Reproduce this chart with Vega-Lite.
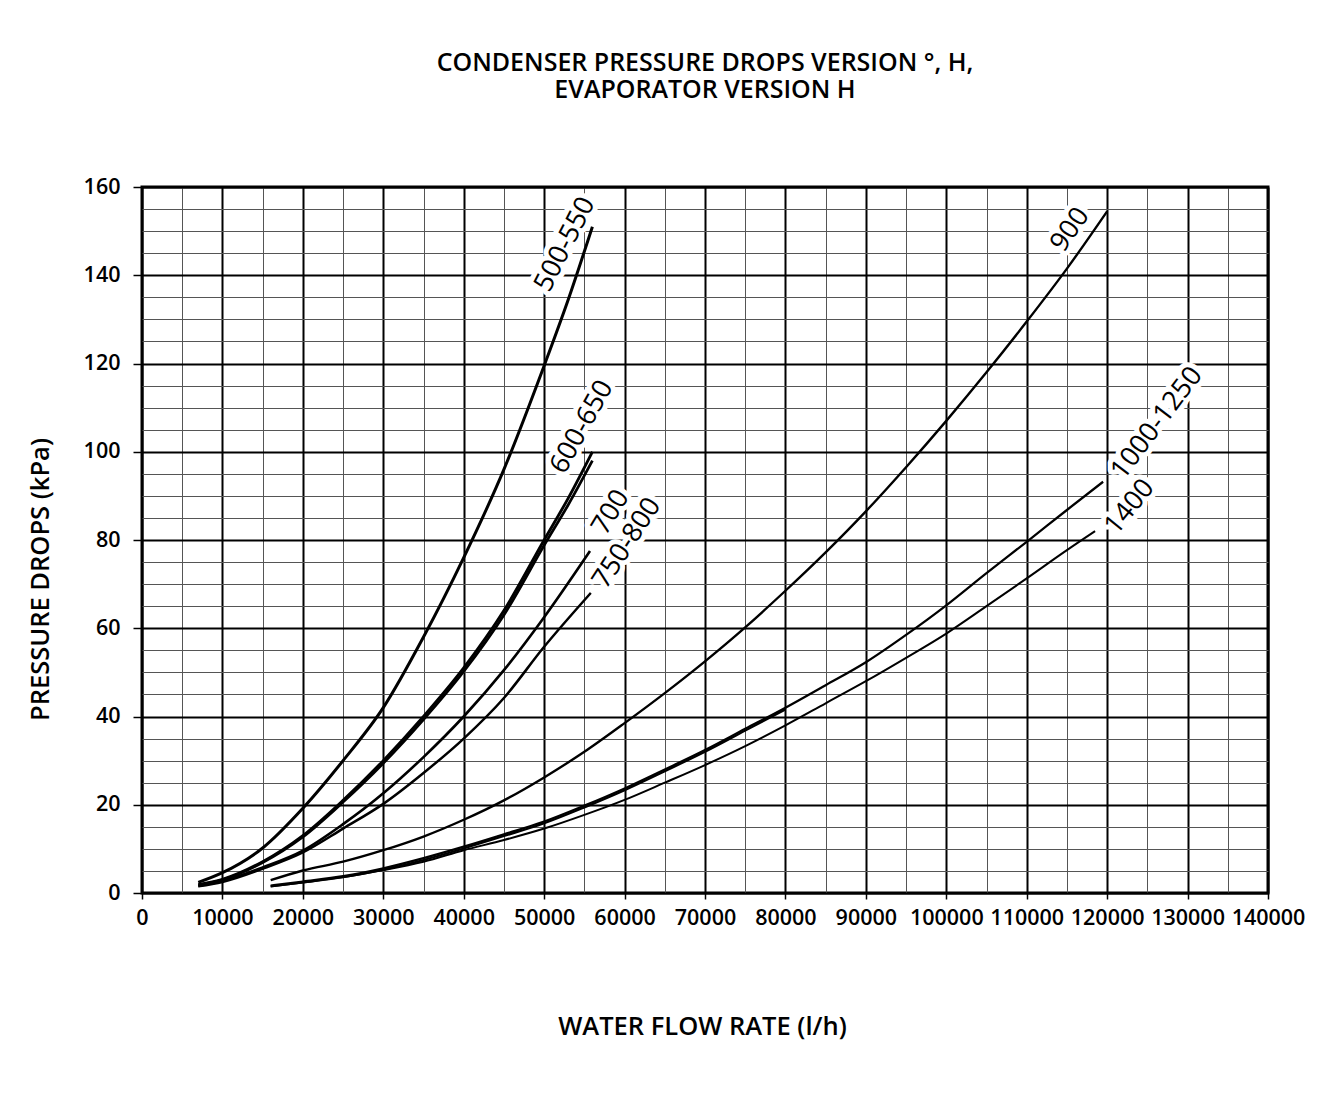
{
  "$schema": "https://vega.github.io/schema/vega-lite/v6.json",
  "width": 1126,
  "height": 706,
  "autosize": "none",
  "padding": {"left": 142, "top": 187, "right": 76, "bottom": 204},
  "background": "white",
  "config": {
    "view": {"stroke": "black", "strokeWidth": 3},
    "font": "Open Sans"
  },
  "title": {
    "text": ["CONDENSER PRESSURE DROPS VERSION °, H,", "EVAPORATOR VERSION H"],
    "font": "Open Sans",
    "fontSize": 25,
    "fontWeight": 600,
    "color": "black",
    "anchor": "middle",
    "lineHeight": 27,
    "offset": 73
  },
  "datasets": {
    "curves": [
      {"s": "500-550", "x": 7000, "y": 2.4},
      {"s": "500-550", "x": 10000, "y": 4.6},
      {"s": "500-550", "x": 15000, "y": 10.2},
      {"s": "500-550", "x": 20000, "y": 19.2},
      {"s": "500-550", "x": 25000, "y": 30},
      {"s": "500-550", "x": 30000, "y": 42},
      {"s": "500-550", "x": 35000, "y": 58},
      {"s": "500-550", "x": 40000, "y": 76},
      {"s": "500-550", "x": 45000, "y": 96},
      {"s": "500-550", "x": 50000, "y": 119.5},
      {"s": "500-550", "x": 53000, "y": 134.5},
      {"s": "500-550", "x": 56000, "y": 151},
      {"s": "650", "x": 7000, "y": 1.9},
      {"s": "650", "x": 10000, "y": 3.1},
      {"s": "650", "x": 15000, "y": 7.1},
      {"s": "650", "x": 20000, "y": 13},
      {"s": "650", "x": 25000, "y": 21},
      {"s": "650", "x": 30000, "y": 30},
      {"s": "650", "x": 35000, "y": 40},
      {"s": "650", "x": 40000, "y": 51},
      {"s": "650", "x": 45000, "y": 64},
      {"s": "650", "x": 50000, "y": 80},
      {"s": "650", "x": 53000, "y": 89.5},
      {"s": "650", "x": 56000, "y": 100},
      {"s": "600", "x": 7000, "y": 1.8},
      {"s": "600", "x": 10000, "y": 3},
      {"s": "600", "x": 15000, "y": 6.9},
      {"s": "600", "x": 20000, "y": 12.7},
      {"s": "600", "x": 25000, "y": 20.6},
      {"s": "600", "x": 30000, "y": 29.4},
      {"s": "600", "x": 35000, "y": 39.3},
      {"s": "600", "x": 40000, "y": 50.2},
      {"s": "600", "x": 45000, "y": 63},
      {"s": "600", "x": 50000, "y": 78.8},
      {"s": "600", "x": 53000, "y": 88},
      {"s": "600", "x": 56000, "y": 98},
      {"s": "700", "x": 7000, "y": 1.6},
      {"s": "700", "x": 10000, "y": 2.7},
      {"s": "700", "x": 15000, "y": 5.8},
      {"s": "700", "x": 20000, "y": 9.6},
      {"s": "700", "x": 25000, "y": 15.6},
      {"s": "700", "x": 30000, "y": 22.6},
      {"s": "700", "x": 35000, "y": 30.8},
      {"s": "700", "x": 40000, "y": 40},
      {"s": "700", "x": 45000, "y": 50.5},
      {"s": "700", "x": 50000, "y": 62.5},
      {"s": "700", "x": 55700, "y": 77.5},
      {"s": "750-800", "x": 7000, "y": 1.5},
      {"s": "750-800", "x": 10000, "y": 2.5},
      {"s": "750-800", "x": 15000, "y": 5.5},
      {"s": "750-800", "x": 20000, "y": 9.2},
      {"s": "750-800", "x": 25000, "y": 14.6},
      {"s": "750-800", "x": 30000, "y": 20.2},
      {"s": "750-800", "x": 35000, "y": 27.2},
      {"s": "750-800", "x": 40000, "y": 35},
      {"s": "750-800", "x": 45000, "y": 44.2},
      {"s": "750-800", "x": 50000, "y": 55.8},
      {"s": "750-800", "x": 55800, "y": 68},
      {"s": "900", "x": 16000, "y": 2.9},
      {"s": "900", "x": 20000, "y": 5.1},
      {"s": "900", "x": 25000, "y": 7.1},
      {"s": "900", "x": 30000, "y": 9.7},
      {"s": "900", "x": 35000, "y": 12.8},
      {"s": "900", "x": 40000, "y": 16.6},
      {"s": "900", "x": 45000, "y": 21},
      {"s": "900", "x": 50000, "y": 26.2},
      {"s": "900", "x": 55000, "y": 32},
      {"s": "900", "x": 60000, "y": 38.5},
      {"s": "900", "x": 65000, "y": 45.3},
      {"s": "900", "x": 70000, "y": 52.5},
      {"s": "900", "x": 75000, "y": 60.2},
      {"s": "900", "x": 80000, "y": 68.5},
      {"s": "900", "x": 85000, "y": 77.2},
      {"s": "900", "x": 90000, "y": 86.5},
      {"s": "900", "x": 95000, "y": 96.5},
      {"s": "900", "x": 100000, "y": 107},
      {"s": "900", "x": 105000, "y": 118},
      {"s": "900", "x": 110000, "y": 129.5},
      {"s": "900", "x": 115000, "y": 141.5},
      {"s": "900", "x": 120000, "y": 154.5},
      {"s": "1000-1250", "x": 16000, "y": 1.7},
      {"s": "1000-1250", "x": 20000, "y": 2.6},
      {"s": "1000-1250", "x": 25000, "y": 3.8},
      {"s": "1000-1250", "x": 30000, "y": 5.6},
      {"s": "1000-1250", "x": 35000, "y": 7.9},
      {"s": "1000-1250", "x": 40000, "y": 10.5},
      {"s": "1000-1250", "x": 45000, "y": 13.3},
      {"s": "1000-1250", "x": 50000, "y": 16.2},
      {"s": "1000-1250", "x": 55000, "y": 19.8},
      {"s": "1000-1250", "x": 60000, "y": 23.7},
      {"s": "1000-1250", "x": 65000, "y": 28},
      {"s": "1000-1250", "x": 70000, "y": 32.4},
      {"s": "1000-1250", "x": 75000, "y": 37.2},
      {"s": "1000-1250", "x": 80000, "y": 42},
      {"s": "1000-1250", "x": 85000, "y": 47.1},
      {"s": "1000-1250", "x": 90000, "y": 52.3},
      {"s": "1000-1250", "x": 95000, "y": 58.5},
      {"s": "1000-1250", "x": 100000, "y": 65.2},
      {"s": "1000-1250", "x": 105000, "y": 72.5},
      {"s": "1000-1250", "x": 110000, "y": 79.6},
      {"s": "1000-1250", "x": 115000, "y": 86.8},
      {"s": "1000-1250", "x": 119500, "y": 93.2},
      {"s": "1000", "x": 16000, "y": 1.5},
      {"s": "1000", "x": 20000, "y": 2.4},
      {"s": "1000", "x": 25000, "y": 3.6},
      {"s": "1000", "x": 30000, "y": 5.3},
      {"s": "1000", "x": 35000, "y": 7.5},
      {"s": "1000", "x": 40000, "y": 10.1},
      {"s": "1000", "x": 45000, "y": 12.9},
      {"s": "1000", "x": 50000, "y": 15.8},
      {"s": "1000", "x": 55000, "y": 19.4},
      {"s": "1000", "x": 60000, "y": 23.3},
      {"s": "1000", "x": 65000, "y": 27.6},
      {"s": "1000", "x": 70000, "y": 32},
      {"s": "1000", "x": 75000, "y": 36.8},
      {"s": "1000", "x": 80000, "y": 41.6},
      {"s": "1400", "x": 16000, "y": 1.5},
      {"s": "1400", "x": 20000, "y": 2.4},
      {"s": "1400", "x": 25000, "y": 3.6},
      {"s": "1400", "x": 30000, "y": 5.2},
      {"s": "1400", "x": 35000, "y": 7.1},
      {"s": "1400", "x": 40000, "y": 9.7},
      {"s": "1400", "x": 45000, "y": 12},
      {"s": "1400", "x": 50000, "y": 14.6},
      {"s": "1400", "x": 55000, "y": 17.7},
      {"s": "1400", "x": 60000, "y": 21.1},
      {"s": "1400", "x": 65000, "y": 25},
      {"s": "1400", "x": 70000, "y": 29},
      {"s": "1400", "x": 75000, "y": 33.3},
      {"s": "1400", "x": 80000, "y": 38},
      {"s": "1400", "x": 85000, "y": 43},
      {"s": "1400", "x": 90000, "y": 48},
      {"s": "1400", "x": 95000, "y": 53.3},
      {"s": "1400", "x": 100000, "y": 58.8},
      {"s": "1400", "x": 105000, "y": 65},
      {"s": "1400", "x": 110000, "y": 71.3},
      {"s": "1400", "x": 115000, "y": 77.7},
      {"s": "1400", "x": 118500, "y": 82}
    ],
    "labels": [
      {"label": "500-550", "x": 52600, "y": 147},
      {"label": "600-650", "x": 54700, "y": 105.6},
      {"label": "700", "x": 58300, "y": 86.3},
      {"label": "750-800", "x": 60300, "y": 79.3},
      {"label": "900", "x": 115400, "y": 150.3},
      {"label": "1000-1250", "x": 126200, "y": 106.5},
      {"label": "1400", "x": 122800, "y": 87.5}
    ]
  },
  "encoding": {
    "x": {
      "field": "x",
      "type": "quantitative",
      "scale": {"domain": [0, 140000], "nice": false, "zero": true},
      "axis": {
        "title": "WATER FLOW RATE (l/h)",
        "titleFont": "Open Sans",
        "titleFontSize": 25.5,
        "titleFontWeight": 600,
        "titleColor": "black",
        "titleX": 560,
        "titleY": 133,
        "titleAlign": "center",
        "titleBaseline": "middle",
        "values": [0, 5000, 10000, 15000, 20000, 25000, 30000, 35000, 40000, 45000, 50000, 55000, 60000, 65000, 70000, 75000, 80000, 85000, 90000, 95000, 100000, 105000, 110000, 115000, 120000, 125000, 130000, 135000, 140000],
        "labelExpr": "datum.value % 10000 === 0 ? '' + datum.value : ''",
        "labelFont": "Open Sans",
        "labelFontSize": 21.5,
        "labelFontWeight": 600,
        "labelColor": "black",
        "labelOverlap": false,
        "labelBound": false,
        "labelFlush": false,
        "labelPadding": 8,
        "domain": false,
        "ticks": true,
        "tickColor": "black",
        "tickWidth": 1.5,
        "tickSize": {"condition": {"test": "datum.value % 10000 === 0", "value": 6}, "value": 0},
        "grid": true,
        "gridColor": {"condition": {"test": "datum.value % 10000 === 0", "value": "#000000"}, "value": "#555555"},
        "gridWidth": {"condition": {"test": "datum.value % 10000 === 0", "value": 2}, "value": 1},
        "gridOpacity": 1
      }
    },
    "y": {
      "field": "y",
      "type": "quantitative",
      "scale": {"domain": [0, 160], "nice": false, "zero": true},
      "axis": {
        "title": "PRESSURE DROPS (kPa)",
        "titleFont": "Open Sans",
        "titleFontSize": 25.5,
        "titleFontWeight": 600,
        "titleColor": "black",
        "titleAngle": -90,
        "titleX": -102,
        "titleY": 392,
        "titleAlign": "center",
        "titleBaseline": "middle",
        "values": [0, 5, 10, 15, 20, 25, 30, 35, 40, 45, 50, 55, 60, 65, 70, 75, 80, 85, 90, 95, 100, 105, 110, 115, 120, 125, 130, 135, 140, 145, 150, 155, 160],
        "labelExpr": "datum.value % 20 === 0 ? '' + datum.value : ''",
        "labelFont": "Open Sans",
        "labelFontSize": 21.5,
        "labelFontWeight": 600,
        "labelColor": "black",
        "labelOverlap": false,
        "labelBound": false,
        "labelFlush": false,
        "labelPadding": 13,
        "domain": false,
        "ticks": true,
        "tickColor": "black",
        "tickWidth": 1.5,
        "tickSize": {"condition": {"test": "datum.value % 20 === 0", "value": 9}, "value": 0},
        "grid": true,
        "gridColor": {"condition": {"test": "datum.value % 20 === 0", "value": "#000000"}, "value": "#555555"},
        "gridWidth": {"condition": {"test": "datum.value % 20 === 0", "value": 2}, "value": 1},
        "gridOpacity": 1
      }
    }
  },
  "layer": [
    {
      "data": {"name": "curves"},
      "mark": {"type": "line", "interpolate": "monotone", "color": "black", "strokeCap": "butt"},
      "encoding": {
        "detail": {"field": "s", "type": "nominal"},
        "strokeWidth": {
          "field": "s",
          "type": "nominal",
          "scale": {
            "domain": ["500-550", "650", "600", "700", "750-800", "900", "1000-1250", "1000", "1400"],
            "range": [3, 2, 2, 1.8, 1.8, 1.8, 1.8, 1.8, 1.8]
          },
          "legend": null
        }
      }
    },
    {
      "data": {"name": "labels"},
      "mark": {"type": "text", "font": "Open Sans", "fontSize": 27, "stroke": "white", "strokeWidth": 10, "strokeJoin": "round", "fill": "white", "align": "center", "baseline": "middle"},
      "encoding": {
        "text": {"field": "label", "type": "nominal"},
        "angle": {
          "field": "label",
          "type": "nominal",
          "scale": {
            "domain": ["500-550", "600-650", "700", "750-800", "900", "1000-1250", "1400"],
            "range": [297, 309, 313, 308, 315, 315, 321]
          },
          "legend": null
        }
      }
    },
    {
      "data": {"name": "labels"},
      "mark": {"type": "text", "font": "Open Sans", "fontSize": 27, "fill": "black", "align": "center", "baseline": "middle"},
      "encoding": {
        "text": {"field": "label", "type": "nominal"},
        "angle": {
          "field": "label",
          "type": "nominal",
          "scale": {
            "domain": ["500-550", "600-650", "700", "750-800", "900", "1000-1250", "1400"],
            "range": [297, 309, 313, 308, 315, 315, 321]
          },
          "legend": null
        }
      }
    }
  ]
}
